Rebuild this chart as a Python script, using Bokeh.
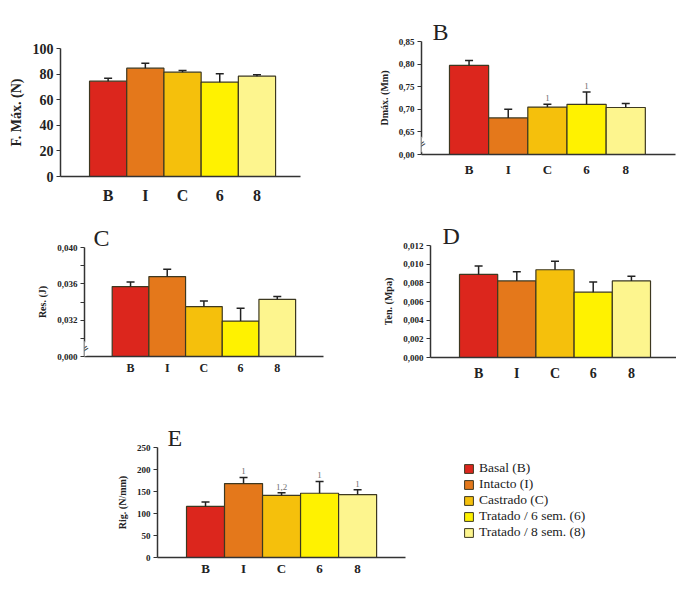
import math
from bokeh.plotting import figure
from bokeh.models import (ColumnDataSource, Range1d, FixedTicker, Label, Legend, LegendItem)
from bokeh.layouts import column, row
from bokeh.embed import file_html
from bokeh.resources import INLINE
from bokeh.core.properties import value

# ---------------- data ----------------
cats = ["B", "I", "C", "6", "8"]
legend_names = ["Basal (B)", "Intacto (I)", "Castrado (C)",
                "Tratado / 6 sem. (6)", "Tratado / 8 sem. (8)"]
colors = ["#dc261d", "#e4781b", "#f5c00c", "#fff200", "#fdf58e"]

# A: F. Max (N)
fmax_vals = [74.5, 84.6, 81.5, 73.7, 78.4]
fmax_err = [2.3, 3.9, 1.3, 6.5, 1.0]
fmax_ticks = [0, 20, 40, 60, 80, 100]
fmax_labels = ["0", "20", "40", "60", "80", "100"]

# B: Dmax (Mm)  (axis broken: bottom tick stands for 0,00)
dmax_vals = [0.797, 0.681, 0.705, 0.711, 0.704]
dmax_err = [0.011, 0.019, 0.006, 0.027, 0.009]
dmax_notes = ["", "", "1", "1", ""]
dmax_ticks = [0.60, 0.65, 0.70, 0.75, 0.80, 0.85]
dmax_labels = ["0,00", "0,65", "0,70", "0,75", "0,80", "0,85"]

# C: Res. (J)  (axis broken: bottom tick stands for 0,000)
res_vals = [0.0357, 0.0368, 0.0335, 0.0319, 0.0343]
res_err = [0.0005, 0.0008, 0.0006, 0.0014, 0.0003]
res_ticks = [0.028, 0.030, 0.032, 0.034, 0.036, 0.038, 0.040]
res_labels = ["0,000", "", "0,032", "", "0,036", "", "0,040"]

# D: Ten. (Mpa)
ten_vals = [0.0089, 0.0082, 0.0094, 0.0070, 0.0082]
ten_err = [0.0009, 0.0010, 0.0009, 0.0011, 0.0005]
ten_ticks = [0.0, 0.002, 0.004, 0.006, 0.008, 0.010, 0.012]
ten_labels = ["0,000", "0,002", "0,004", "0,006", "0,008", "0,010", "0,012"]

# E: Rig. (N/mm)
rig_vals = [116, 168, 141, 146, 143]
rig_err = [10, 14, 6, 27, 11]
rig_notes = ["", "1", "1,2", "1", "1"]
rig_ticks = [0, 50, 100, 150, 200, 250]
rig_labels = ["0", "50", "100", "150", "200", "250"]

SERIF = "Liberation Serif"
AXIS_COLOR = "#333333"


def make_panel(W, H, l, r, t, b, xr, yr, vals, errs, base, yticks, ylabels, ylabel,
               letter=None, letter_dx=10, notes=None, xfont="13px", yfont="9px",
               ylabfont="10px", xstand=6, ylabstand=6, break_dy=None):
    xs = list(range(1, len(cats) + 1))
    src = ColumnDataSource(dict(
        x=xs, cat=cats, val=vals,
        upper=[v + e for v, e in zip(vals, errs)],
        color=colors, note=notes if notes else [""] * len(cats)))
    p = figure(width=W, height=H, x_range=Range1d(*xr), y_range=Range1d(*yr),
               output_backend="svg", toolbar_location=None,
               min_border_left=l, min_border_right=r, min_border_top=t,
               min_border_bottom=b)
    p.grid.visible = False
    p.outline_line_color = None
    p.background_fill_color = "white"
    p.border_fill_color = "white"

    if letter:
        p.title.text = letter
        p.title.align = "left"
        p.title.offset = letter_dx
        p.title.text_font = SERIF
        p.title.text_font_style = "normal"
        p.title.text_font_size = "24px"
        p.title.text_color = "#222222"
        p.title.standoff = -6

    bars = p.vbar(x="x", top="val", bottom=base, width=1.0, fill_color="color",
                  line_color="#3d3820", line_width=1.2, source=src)
    # error bars (upper only) with a tee cap
    p.segment(x0="x", y0="val", x1="x", y1="upper", source=src,
              line_color="#222222", line_width=1.5)
    p.scatter(x="x", y="upper", marker="dash", size=8, source=src,
              line_color="#222222", line_width=1.5)
    if notes:
        p.text(x="x", y="upper", text="note", source=src, text_align="center",
               text_baseline="bottom", y_offset=-3, text_font_size="9px",
               text_color="#707070", text_font=value(SERIF))
    if break_dy is not None:
        # axis-break mark (two slanted strokes interrupting the axis line)
        p.add_layout(Label(x=0, y=break_dy, x_units="screen", y_units="screen",
                           text="=", angle=0.6, text_align="center",
                           text_baseline="middle", text_font="DejaVu Sans",
                           text_font_size="11px", text_color="#333333",
                           background_fill_color="white", level="overlay"))

    xa = p.xaxis[0]
    xa.ticker = FixedTicker(ticks=xs, minor_ticks=[])
    xa.major_label_overrides = {x: c for x, c in zip(xs, cats)}
    xa.major_tick_line_color = None
    xa.major_tick_out = 0
    xa.major_tick_in = 0
    xa.minor_tick_line_color = None
    xa.axis_line_color = AXIS_COLOR
    xa.axis_line_width = 1.5
    xa.major_label_text_font = SERIF
    xa.major_label_text_font_style = "bold"
    xa.major_label_text_font_size = xfont
    xa.major_label_text_color = "#222222"
    xa.major_label_standoff = xstand

    ya = p.yaxis[0]
    ya.ticker = FixedTicker(ticks=yticks, minor_ticks=[])
    ya.major_label_overrides = dict(zip(yticks, ylabels))
    ya.minor_tick_line_color = None
    ya.major_tick_in = 0
    ya.major_tick_out = 4
    ya.major_tick_line_color = AXIS_COLOR
    ya.major_tick_line_width = 1.2
    ya.axis_line_color = AXIS_COLOR
    ya.axis_line_width = 1.5
    ya.major_label_text_font = SERIF
    ya.major_label_text_font_style = "bold"
    ya.major_label_text_font_size = yfont
    ya.major_label_text_color = "#222222"
    ya.major_label_standoff = 3
    ya.axis_label = ylabel
    ya.axis_label_text_font = SERIF
    ya.axis_label_text_font_style = "bold"
    ya.axis_label_text_font_size = ylabfont
    ya.axis_label_text_color = "#222222"
    ya.axis_label_standoff = ylabstand
    return p, bars


pA, _ = make_panel(370, 210, 60, 70, 48, 34, (-0.28, 6.17), (0, 100),
                   fmax_vals, fmax_err, 0, fmax_ticks, fmax_labels, "F. Máx. (N)",
                   xfont="16px", yfont="14px", ylabfont="14px", xstand=10, ylabstand=6)
pB, _ = make_panel(306, 210, 51, 1, 41, 56, (-0.214, 6.27), (0.60, 0.85),
                   dmax_vals, dmax_err, 0.60, dmax_ticks, dmax_labels, "Dmáx. (Mm)",
                   letter="B", letter_dx=11, notes=dmax_notes, xfont="13px", xstand=7,
                   break_dy=10)
pC, _ = make_panel(380, 175, 84, 57, 37, 29, (-0.255, 6.26), (0.028, 0.040),
                   res_vals, res_err, 0.028, res_ticks, res_labels, "Res. (J)",
                   letter="C", letter_dx=9, xfont="12px", xstand=4, break_dy=7.5)
pD, _ = make_panel(296, 175, 50, 0, 35, 28, (-0.259, 6.18), (0.0, 0.012),
                   ten_vals, ten_err, 0, ten_ticks, ten_labels, "Ten. (Mpa)",
                   letter="D", letter_dx=12, xfont="14px", xstand=8)
pE, barsE = make_panel(430, 224, 157, 25, 62, 52, (-0.263, 6.26), (0, 250),
                       rig_vals, rig_err, 0, rig_ticks, rig_labels, "Rig. (N/mm)",
                       letter="E", letter_dx=10, notes=rig_notes, xfont="13px", xstand=3)

# legend panel (separate figure without axes)
pL = figure(width=246, height=224, x_range=Range1d(0, 1), y_range=Range1d(0, 1),
            output_backend="svg", toolbar_location=None, min_border=0)
pL.axis.visible = False
pL.grid.visible = False
pL.outline_line_color = None
rL = pL.vbar(x="x", top="val", width=1.0, fill_color="color", line_color="#3d3820",
             line_width=1.0, source=barsE.data_source, visible=False)
legend = Legend(
    items=[LegendItem(label=n, renderers=[rL], index=i)
           for i, n in enumerate(legend_names)],
    location=(33, 69), glyph_width=11, glyph_height=11, label_height=14,
    spacing=0, padding=0, margin=0, label_standoff=5,
    label_text_font=SERIF, label_text_font_size="13.5px", label_text_color="#222222",
    border_line_color=None, background_fill_alpha=0, inactive_fill_alpha=0)
pL.add_layout(legend, "center")

layout = column(row(column(pA), column(pB)),
                row(column(pC), column(pD)),
                row(column(pE), column(pL)))

with open("out.html", "w") as f:
    f.write(file_html(layout, INLINE))
